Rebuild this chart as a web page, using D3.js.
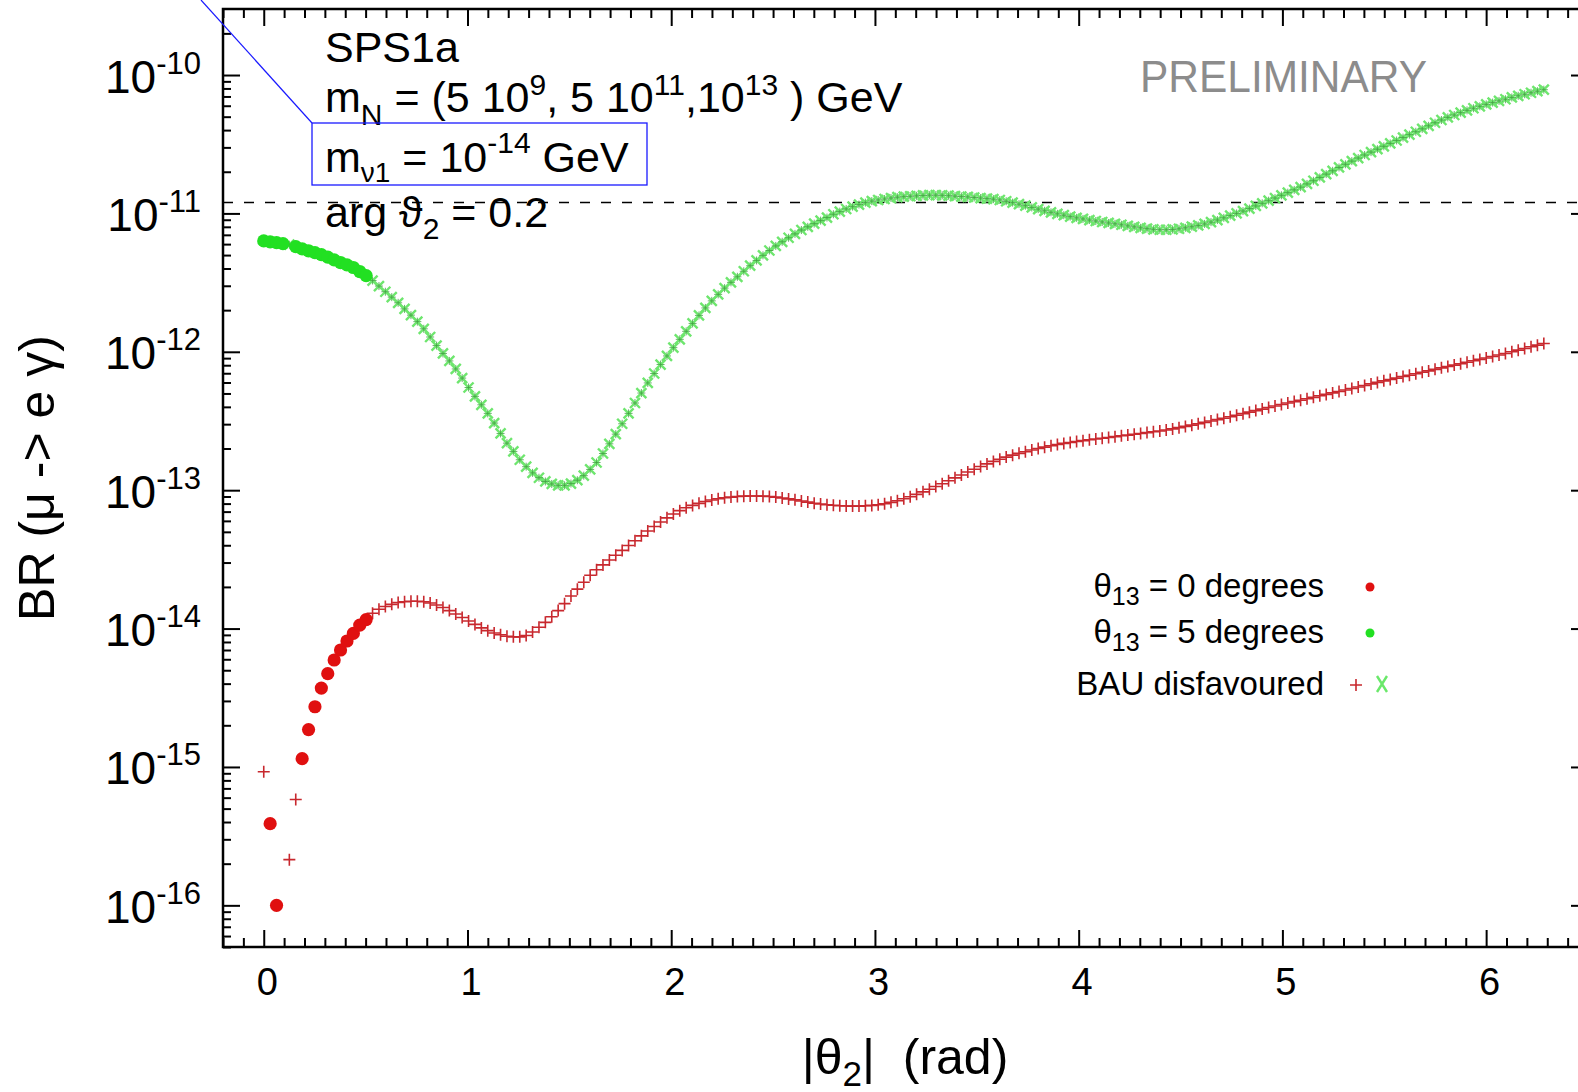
<!DOCTYPE html>
<html lang="en">
<head>
<meta charset="UTF-8">
<title>BR (mu -> e gamma) vs |theta2|</title>
<script src="https://d3js.org/d3.v7.min.js"></script>
<style>
  body { margin: 0; background: #fff; }
  svg text { font-family: "Liberation Sans", Arial, Helvetica, sans-serif; fill: #000; }
</style>
</head>
<body>
<script>
// |theta2| is scanned on 200 even steps from 0 to 2 pi
var nSteps = 200;

// log10 BR(mu -> e gamma), one value per scan point
var redLogBR = [ // theta13 = 0 degrees
  -15.035, -15.41, -16.0, -17.2, -15.67, -15.235, -14.94, -14.73, -14.565, -14.43,
  -14.326, -14.227, -14.155, -14.09, -14.035, -13.975, -13.935, -13.889, -13.86, -13.84,
  -13.825, -13.812, -13.806, -13.803, -13.803, -13.806, -13.815, -13.83, -13.848, -13.87,
  -13.895, -13.92, -13.945, -13.97, -13.995, -14.015, -14.032, -14.045, -14.055, -14.06,
  -14.06, -14.05, -14.025, -13.99, -13.955, -13.915, -13.87, -13.82, -13.765, -13.715,
  -13.665, -13.615, -13.575, -13.54, -13.505, -13.47, -13.435, -13.40, -13.365, -13.33,
  -13.295, -13.262, -13.23, -13.2, -13.172, -13.148, -13.127, -13.11, -13.095, -13.082,
  -13.071, -13.062, -13.055, -13.05, -13.046, -13.043, -13.042, -13.042, -13.043, -13.046,
  -13.05, -13.056, -13.063, -13.07, -13.078, -13.086, -13.094, -13.1, -13.105, -13.109,
  -13.112, -13.114, -13.115, -13.115, -13.113, -13.11, -13.105, -13.098, -13.088, -13.076,
  -13.062, -13.047, -13.03, -13.012, -12.993, -12.973, -12.953, -12.932, -12.911, -12.89,
  -12.869, -12.849, -12.829, -12.81, -12.792, -12.776, -12.761, -12.747, -12.734, -12.722,
  -12.71, -12.699, -12.689, -12.679, -12.67, -12.662, -12.655, -12.648, -12.642, -12.636,
  -12.63, -12.625, -12.619, -12.613, -12.607, -12.602, -12.596, -12.59, -12.584, -12.578,
  -12.572, -12.565, -12.557, -12.548, -12.539, -12.53, -12.52, -12.51, -12.5, -12.49,
  -12.48, -12.469, -12.458, -12.447, -12.436, -12.425, -12.414, -12.403, -12.392, -12.381,
  -12.37, -12.36, -12.35, -12.339, -12.329, -12.318, -12.308, -12.297, -12.287, -12.276,
  -12.265, -12.254, -12.243, -12.232, -12.221, -12.21, -12.2, -12.19, -12.179, -12.169,
  -12.159, -12.148, -12.138, -12.127, -12.116, -12.106, -12.096, -12.086, -12.075, -12.065,
  -12.055, -12.045, -12.034, -12.023, -12.012, -12.0, -11.988, -11.976, -11.964, -11.952,
  -11.94
];

var greenLogBR = [ // theta13 = 5 degrees
  -11.199, -11.205, -11.211, -11.218, -11.226, -11.24, -11.256, -11.27, -11.283, -11.298,
  -11.316, -11.336, -11.355, -11.372, -11.391, -11.42, -11.449, -11.485, -11.525, -11.566,
  -11.605, -11.646, -11.69, -11.735, -11.782, -11.834, -11.893, -11.955, -12.012, -12.066,
  -12.124, -12.19, -12.258, -12.322, -12.383, -12.445, -12.515, -12.59, -12.66, -12.72,
  -12.78, -12.83, -12.875, -12.91, -12.937, -12.955, -12.965, -12.965, -12.952, -12.928,
  -12.895, -12.85, -12.8, -12.735, -12.665, -12.595, -12.52, -12.445, -12.37, -12.298,
  -12.225, -12.157, -12.092, -12.03, -11.97, -11.91, -11.852, -11.795, -11.737, -11.683,
  -11.632, -11.585, -11.54, -11.498, -11.458, -11.418, -11.378, -11.34, -11.303, -11.268,
  -11.235, -11.205, -11.176, -11.148, -11.12, -11.097, -11.074, -11.052, -11.03, -11.006,
  -10.987, -10.968, -10.951, -10.936, -10.922, -10.911, -10.903, -10.896, -10.889, -10.883,
  -10.879, -10.876, -10.873, -10.87, -10.868, -10.868, -10.869, -10.872, -10.875, -10.878,
  -10.881, -10.885, -10.889, -10.893, -10.897, -10.903, -10.912, -10.922, -10.933, -10.944,
  -10.957, -10.969, -10.981, -10.992, -11.003, -11.013, -11.023, -11.032, -11.04, -11.048,
  -11.055, -11.062, -11.069, -11.075, -11.082, -11.09, -11.097, -11.104, -11.11, -11.115,
  -11.118, -11.118, -11.116, -11.111, -11.104, -11.096, -11.087, -11.076, -11.063, -11.048,
  -11.032, -11.016, -11.0, -10.983, -10.965, -10.946, -10.927, -10.908, -10.889, -10.869,
  -10.85, -10.83, -10.81, -10.787, -10.764, -10.74, -10.716, -10.692, -10.668, -10.645,
  -10.622, -10.6, -10.578, -10.557, -10.536, -10.515, -10.494, -10.473, -10.452, -10.431,
  -10.41, -10.389, -10.367, -10.345, -10.325, -10.306, -10.289, -10.272, -10.255, -10.24,
  -10.226, -10.212, -10.199, -10.187, -10.175, -10.162, -10.15, -10.139, -10.128, -10.117,
  -10.106
];

// scan points where BAU is not disfavoured (drawn as dots)
var redFavoured = [1, 2, 6, 7, 8, 9, 10, 11, 12, 13, 14, 15, 16];
var greenFavoured = [0, 1, 2, 3, 5, 6, 7, 8, 9, 10, 11, 12, 13, 14, 15, 16];

var xTicks = [0, 1, 2, 3, 4, 5, 6];
var yDecades = [-16, -15, -14, -13, -12, -11, -10];
var megLimit = 1.2e-11;

var width = 1578, height = 1092;
var margin = {top: 9, right: 1588, bottom: 947, left: 223};

var svg = d3.select("body").append("svg")
    .attr("width", width)
    .attr("height", height);

svg.append("rect").attr("width", width).attr("height", height).attr("fill", "#fff");

var x = d3.scaleLinear().domain([-0.2, 6.5]).range([margin.left, margin.right]);
var y = d3.scaleLog().domain([5e-17, 3e-10]).range([margin.bottom, margin.top]);

var theta = d3.range(nSteps + 1).map(function(i) { return i * 2 * Math.PI / nSteps; });

function series(logs, fav) {
  return logs.map(function(l, i) {
    return {t: theta[i], br: Math.pow(10, l), fav: fav.indexOf(i) >= 0};
  });
}
var red = series(redLogBR, redFavoured);
var green = series(greenLogBR, greenFavoured);

// ---- axes (ticks point inward) ----
var xMinor = d3.range(-2, 66).map(function(i) { return i / 10; })
    .filter(function(v) { return Math.abs(v - Math.round(v)) > 1e-6; });
var yMinor = [];
d3.range(-17, -9).forEach(function(d) {
  d3.range(2, 10).forEach(function(k) {
    var v = k * Math.pow(10, d);
    if (v > 5e-17 && v < 3e-10) yMinor.push(v);
  });
});
var yMajor = yDecades.map(function(d) { return Math.pow(10, d); });

function styleAxis(g) {
  g.select(".domain").remove();
  g.selectAll(".tick line").attr("stroke", "#000").attr("stroke-width", 2);
}

var xAxis = svg.append("g")
    .attr("transform", "translate(0," + margin.bottom + ")")
    .call(d3.axisBottom(x).tickValues(xTicks).tickSize(-17).tickPadding(21).tickFormat(d3.format("d")))
    .call(styleAxis);
xAxis.selectAll("text").attr("font-size", 38).attr("dx", 3).attr("fill", "#000");

svg.append("g").attr("transform", "translate(0," + margin.bottom + ")")
    .call(d3.axisBottom(x).tickValues(xMinor).tickSize(-9).tickFormat(""))
    .call(styleAxis);
svg.append("g").attr("transform", "translate(0," + margin.top + ")")
    .call(d3.axisTop(x).tickValues(xTicks).tickSize(-17).tickFormat(""))
    .call(styleAxis);
svg.append("g").attr("transform", "translate(0," + margin.top + ")")
    .call(d3.axisTop(x).tickValues(xMinor).tickSize(-9).tickFormat(""))
    .call(styleAxis);

var yAxis = svg.append("g").attr("transform", "translate(" + margin.left + ",0)")
    .call(d3.axisLeft(y).tickValues(yMajor).tickSize(-17).tickFormat(""))
    .call(styleAxis);
svg.append("g").attr("transform", "translate(" + margin.left + ",0)")
    .call(d3.axisLeft(y).tickValues(yMinor).tickSize(-8).tickFormat(""))
    .call(styleAxis);
svg.append("g").attr("transform", "translate(" + margin.right + ",0)")
    .call(d3.axisRight(y).tickValues(yMajor).tickSize(-17).tickFormat(""))
    .call(styleAxis);
svg.append("g").attr("transform", "translate(" + margin.right + ",0)")
    .call(d3.axisRight(y).tickValues(yMinor).tickSize(-8).tickFormat(""))
    .call(styleAxis);

// y tick labels 10^n
yAxis.selectAll(".tick").each(function(v) {
  var t = d3.select(this).append("text")
      .attr("x", -22).attr("y", 17)
      .attr("text-anchor", "end");
  t.append("tspan").attr("font-size", 46).text("10");
  t.append("tspan").attr("font-size", 31).attr("dy", -19)
      .text(Math.round(Math.log10(v)));
});

// frame
svg.append("rect")
    .attr("x", margin.left).attr("y", margin.top)
    .attr("width", margin.right - margin.left).attr("height", margin.bottom - margin.top)
    .attr("fill", "none").attr("stroke", "#000").attr("stroke-width", 2.5);

// experimental bound
svg.append("line")
    .attr("x1", margin.left).attr("x2", margin.right)
    .attr("y1", y(megLimit)).attr("y2", y(megLimit))
    .attr("stroke", "#000").attr("stroke-width", 1.6)
    .attr("stroke-dasharray", "10,11");

// ---- data ----
svg.append("clipPath").attr("id", "plotclip")
  .append("rect")
    .attr("x", margin.left).attr("y", margin.top)
    .attr("width", margin.right - margin.left).attr("height", margin.bottom - margin.top);
var plot = svg.append("g").attr("clip-path", "url(#plotclip)");

var crossPath = "M-5,-5L5,5M-5,5L5,-5";
var plusPath = "M-6,0H6M0,-6V6";

function drawSeries(data, col, dotCol, marker) {
  var g = plot.append("g");
  var dis = data.filter(function(d) { return !d.fav; });
  if (marker === "x") {
    g.selectAll(".xm").data(dis).enter().append("path")
        .attr("transform", function(d) { return "translate(" + x(d.t) + "," + y(d.br) + ")"; })
        .attr("d", crossPath)
        .attr("stroke", col).attr("stroke-width", 2.4).attr("fill", "none");
    g.selectAll(".xm2").data(dis).enter().append("path")
        .attr("transform", function(d) { return "translate(" + x(d.t) + "," + y(d.br) + ")"; })
        .attr("d", "M-4,0H4M0,-4V4")
        .attr("stroke", "#44a044").attr("stroke-width", 0.8).attr("fill", "none");
  } else {
    g.selectAll(".pm").data(dis).enter().append("path")
        .attr("transform", function(d) { return "translate(" + x(d.t) + "," + y(d.br) + ")"; })
        .attr("d", plusPath)
        .attr("stroke", col).attr("stroke-width", 1.6).attr("fill", "none");
  }
  g.selectAll("circle").data(data.filter(function(d) { return d.fav; })).enter().append("circle")
      .attr("cx", function(d) { return x(d.t); })
      .attr("cy", function(d) { return y(d.br); })
      .attr("r", 6.6)
      .attr("fill", dotCol);
}
drawSeries(green, "#6ee66e", "#22e022", "x");
drawSeries(red, "#c8282e", "#e01010", "+");

// ---- labels ----
var xl = svg.append("text").attr("x", 905).attr("y", 1074)
    .attr("text-anchor", "middle").attr("font-size", 50);
xl.append("tspan").text("|\u03b8");
xl.append("tspan").attr("font-size", 35).attr("dy", 12).text("2");
xl.append("tspan").attr("dy", -12).text("|\u00a0\u00a0(rad)");

svg.append("text")
    .attr("transform", "translate(54,478) rotate(-90)")
    .attr("text-anchor", "middle").attr("font-size", 50)
    .text("BR (\u03bc -> e \u03b3)");

// parameter block
var fs = 43, sfs = 30;
svg.append("text").attr("x", 325).attr("y", 62).attr("font-size", fs).text("SPS1a");

var l2 = svg.append("text").attr("x", 325).attr("y", 112).attr("font-size", fs);
l2.append("tspan").text("m");
l2.append("tspan").attr("font-size", sfs).attr("dy", 13).text("N");
l2.append("tspan").attr("dy", -13).text(" = (5 10");
l2.append("tspan").attr("font-size", sfs).attr("dy", -17).text("9");
l2.append("tspan").attr("dy", 17).text(", 5 10");
l2.append("tspan").attr("font-size", sfs).attr("dy", -17).text("11");
l2.append("tspan").attr("dy", 17).text(",10");
l2.append("tspan").attr("font-size", sfs).attr("dy", -17).text("13");
l2.append("tspan").attr("dy", 17).text(" ) GeV");

var l3 = svg.append("text").attr("x", 325).attr("y", 172).attr("font-size", fs);
l3.append("tspan").text("m");
l3.append("tspan").attr("font-size", 28).attr("dy", 10).text("\u03bd1");
l3.append("tspan").attr("dy", -10).text(" = 10");
l3.append("tspan").attr("font-size", sfs).attr("dy", -19).text("-14");
l3.append("tspan").attr("dy", 19).text(" GeV");

var l4 = svg.append("text").attr("x", 325).attr("y", 227).attr("font-size", fs);
l4.append("tspan").text("arg \u03d1");
l4.append("tspan").attr("font-size", sfs).attr("dy", 12).text("2");
l4.append("tspan").attr("dy", -12).text(" = 0.2");

// highlight box and pointer
svg.append("line").attr("x1", 201).attr("y1", 0).attr("x2", 312).attr("y2", 123)
    .attr("stroke", "#1a1aff").attr("stroke-width", 1.2);
svg.append("rect").attr("x", 312).attr("y", 123).attr("width", 335).attr("height", 62)
    .attr("fill", "none").attr("stroke", "#1a1aff").attr("stroke-width", 1.3);

svg.append("text").attr("x", 1140).attr("y", 92).attr("font-size", 45)
    .attr("textLength", 287).attr("lengthAdjust", "spacingAndGlyphs")
    .style("fill", "#8c8c8c").text("PRELIMINARY");

// legend
var legendRows = [
  {label: " = 0 degrees", theta: true, y: 597},
  {label: " = 5 degrees", theta: true, y: 643},
  {label: "BAU disfavoured", theta: false, y: 695}
];
legendRows.forEach(function(r) {
  var t = svg.append("text").attr("x", 1324).attr("y", r.y)
      .attr("text-anchor", "end").attr("font-size", 33);
  if (r.theta) {
    t.append("tspan").text("\u03b8");
    t.append("tspan").attr("font-size", 25).attr("dy", 8).text("13");
    t.append("tspan").attr("dy", -8).text(r.label);
  } else {
    t.text(r.label);
  }
});
svg.append("circle").attr("cx", 1370).attr("cy", 587).attr("r", 4.5).attr("fill", "#e01010");
svg.append("circle").attr("cx", 1370).attr("cy", 633).attr("r", 4.5).attr("fill", "#22e022");
svg.append("path").attr("transform", "translate(1356,685)").attr("d", plusPath)
    .attr("stroke", "#c8282e").attr("stroke-width", 1.6).attr("fill", "none");
svg.append("path").attr("transform", "translate(1382,684)").attr("d", "M-5,-8L5,8M-5,8L5,-8")
    .attr("stroke", "#6ae86a").attr("stroke-width", 2.4).attr("fill", "none");
</script>
</body>
</html>
